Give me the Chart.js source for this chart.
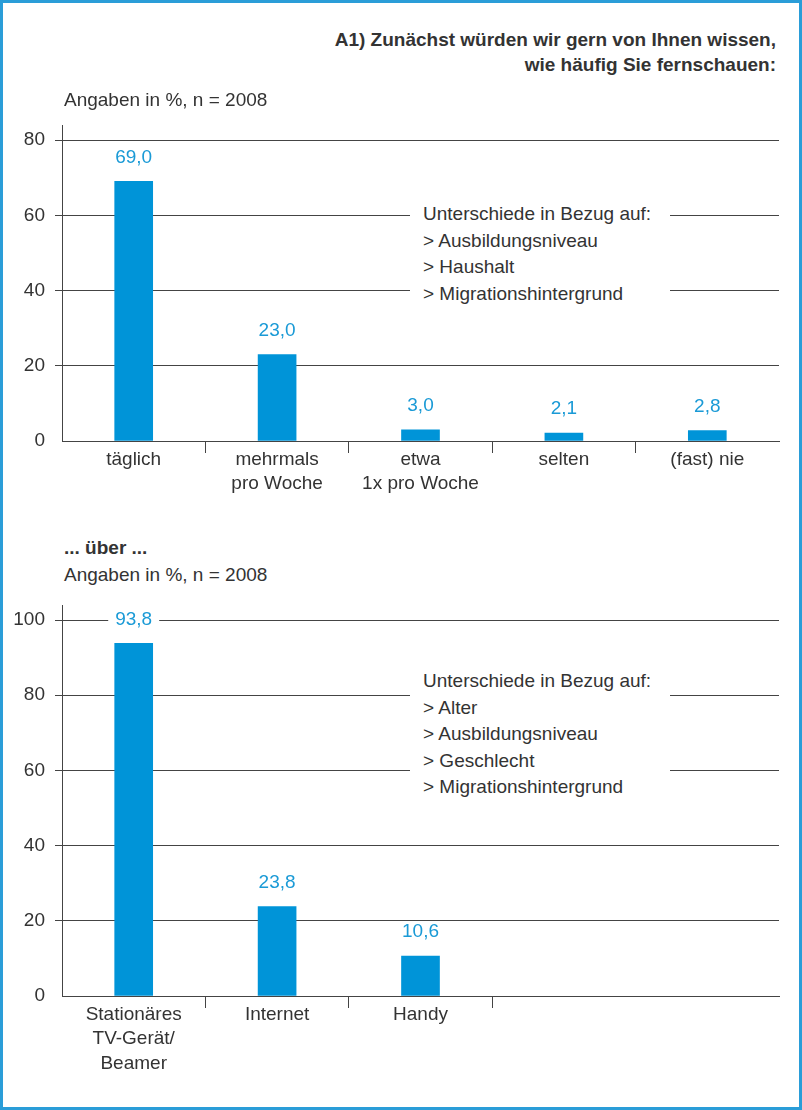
<!DOCTYPE html>
<html>
<head>
<meta charset="utf-8">
<script src="https://cdn.jsdelivr.net/npm/chart.js@4.4.1/dist/chart.umd.min.js"></script>
<style>
  body { margin: 0; background: #fff; }
  #frame { position: relative; width: 802px; height: 1110px; overflow: hidden;
    font-family: "Liberation Sans", Arial, sans-serif; color: #333; }
  #border { position: absolute; left: 0; top: 0; right: 0; bottom: 0; border: 3px solid #2a9dd8; z-index: 5; pointer-events: none; }
  .box { position: absolute; left: 0; width: 802px; }
  .txt { position: absolute; z-index: 3; font-size: 19px; line-height: 24px; white-space: nowrap; }
  #title { right: 26px; top: 27px; text-align: right; font-weight: bold; line-height: 25px; }
  .note { position: absolute; z-index: 3; background: #fff; left: 410px; width: 247px; padding-left: 13px;
    font-size: 19px; line-height: 26.5px; white-space: nowrap; }
</style>
</head>
<body>
<div id="frame">
  <div id="border"></div>
  <div id="title" class="txt">A1) Zunächst würden wir gern von Ihnen wissen,<br>wie häufig Sie fernschauen:</div>
  <div class="txt" style="left:64px;top:88px">Angaben in %, n = 2008</div>
  <div class="box" style="top:110px;height:390px"><canvas id="freq"></canvas></div>
  <div class="note" style="top:201px">Unterschiede in Bezug auf:<br>&gt; Ausbildungsniveau<br>&gt; Haushalt<br>&gt; Migrationshintergrund</div>

  <div class="txt" style="left:64px;top:536px;font-weight:bold">... über ...</div>
  <div class="txt" style="left:64px;top:563px">Angaben in %, n = 2008</div>
  <div class="box" style="top:590px;height:500px"><canvas id="device"></canvas></div>
  <div class="note" style="top:668px">Unterschiede in Bezug auf:<br>&gt; Alter<br>&gt; Ausbildungsniveau<br>&gt; Geschlecht<br>&gt; Migrationshintergrund</div>
</div>

<script>
const freqLabels = ["täglich", ["mehrmals", "pro Woche"], ["etwa", "1x pro Woche"], "selten", "(fast) nie"];
const freqValues = [69.0, 23.0, 3.0, 2.1, 2.8];

const deviceLabels = [["Stationäres", "TV-Gerät/", "Beamer"], "Internet", "Handy", "", ""];
const deviceValues = [93.8, 23.8, 10.6, null, null];

const yTicks1 = [0, 20, 40, 60, 80];
const yTicks2 = [0, 20, 40, 60, 80, 100];

const BLUE = "#0094d8";
const LABEL_BLUE = "#1a9ad6";
const LINE = "#444";
const FONT = "'Liberation Sans', Arial, sans-serif";

Chart.defaults.font.family = FONT;
Chart.defaults.font.size = 19;
Chart.defaults.color = "#333";

const valueLabels = {
  id: "valueLabels",
  afterDatasetsDraw(chart) {
    const ctx = chart.ctx;
    const y = chart.scales.y;
    const data = chart.data.datasets[0].data;
    ctx.save();
    ctx.font = "19px " + FONT;
    ctx.textAlign = "center";
    ctx.textBaseline = "middle";
    chart.getDatasetMeta(0).data.forEach((bar, i) => {
      const v = data[i];
      if (v == null) return;
      const txt = v.toFixed(1).replace(".", ",");
      const cy = y.getPixelForValue(v) - 24;
      const w = ctx.measureText(txt).width + 14;
      ctx.fillStyle = "#fff";
      ctx.fillRect(bar.x - w / 2, cy - 10, w, 20);
      ctx.fillStyle = LABEL_BLUE;
      ctx.fillText(txt, bar.x, cy);
    });
    ctx.restore();
  }
};

function makeChart(id, labels, values, ticks, yMax, dividers, xHeight) {
  return new Chart(document.getElementById(id), {
    type: "bar",
    data: {
      labels: labels,
      datasets: [{ data: values, backgroundColor: BLUE, barThickness: 38, categoryPercentage: 1 }]
    },
    options: {
      responsive: true,
      maintainAspectRatio: false,
      animation: false,
      layout: { padding: { top: 15, right: 23, left: 0, bottom: 0 } },
      plugins: { legend: { display: false }, tooltip: { enabled: false } },
      scales: {
        x: {
          border: { color: LINE, width: 1 },
          grid: {
            offset: true,
            drawOnChartArea: false,
            drawTicks: true,
            tickLength: 12,
            color: (c) => (c.index >= 1 && c.index <= dividers ? LINE : "rgba(0,0,0,0)")
          },
          ticks: { padding: -5, maxRotation: 0, autoSkip: false, font: { size: 19, lineHeight: 1.27 } },
          afterFit: (s) => { s.height = xHeight; s.paddingLeft = 0; s.paddingRight = 0; }
        },
        y: {
          min: 0,
          max: yMax,
          border: { color: LINE, width: 1 },
          grid: {
            drawTicks: true,
            tickLength: 7,
            color: (c) => (c.tick && c.tick.value === 0 ? "rgba(0,0,0,0)" : LINE)
          },
          ticks: { stepSize: 20, padding: 10 },
          afterBuildTicks: (s) => { s.ticks = ticks.map((v) => ({ value: v })); },
          afterFit: (s) => { s.width = 62; s.paddingTop = 0; s.paddingBottom = 0; }
        }
      }
    },
    plugins: [valueLabels]
  });
}

makeChart("freq", freqLabels, freqValues, yTicks1, 84, 4, 59);
makeChart("device", deviceLabels, deviceValues, yTicks2, 104, 3, 94);
</script>
</body>
</html>
